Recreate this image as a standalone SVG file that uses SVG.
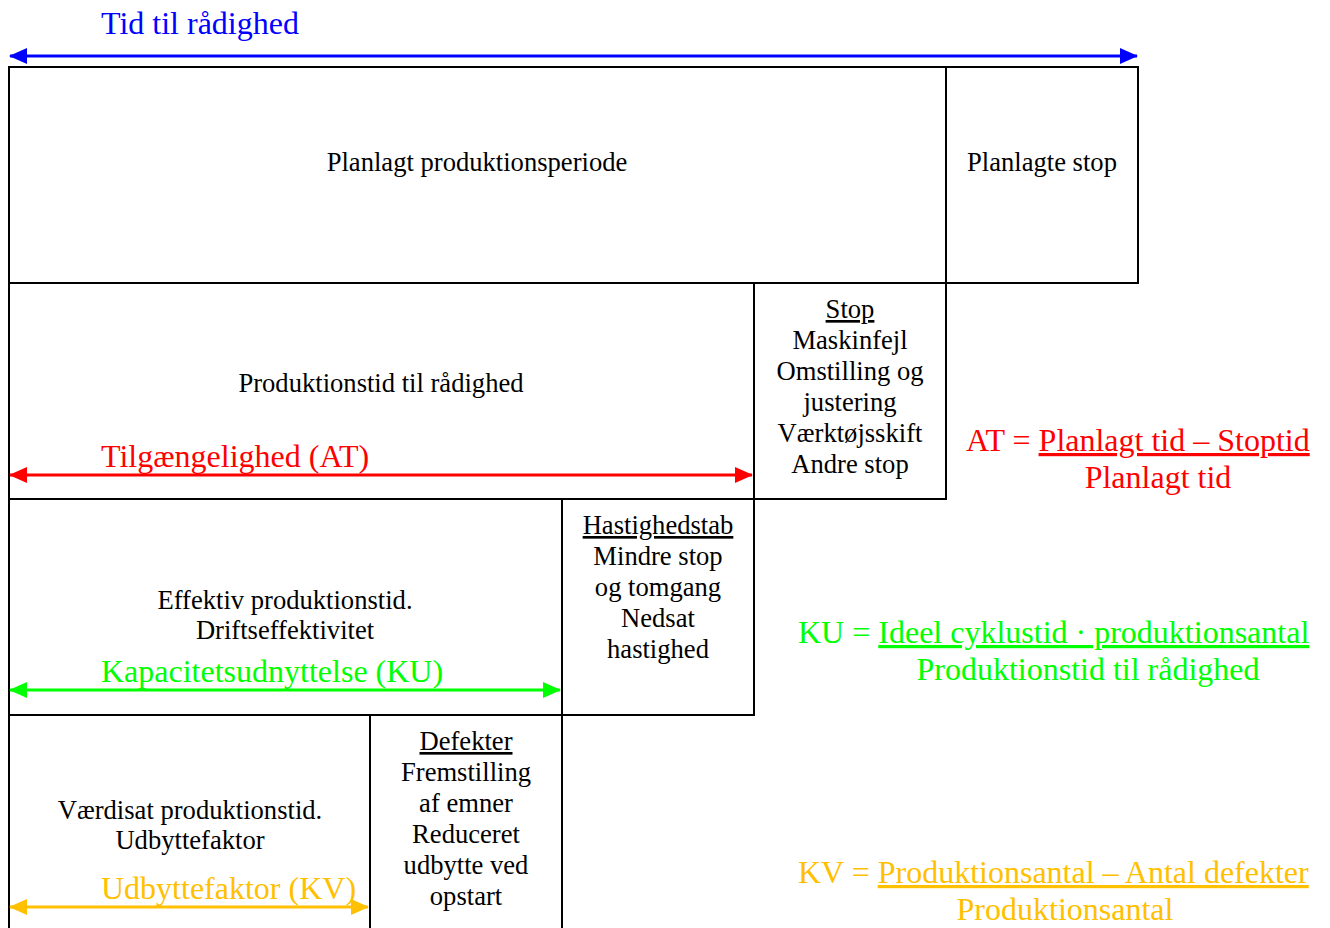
<svg xmlns="http://www.w3.org/2000/svg" width="1330" height="928" viewBox="0 0 1330 928">
<style>
.box{fill:#fff;stroke:#000;stroke-width:2}
.t{font-family:"Liberation Serif","Times New Roman",serif;font-size:26.6px;fill:#000;text-anchor:middle}
.big{font-family:"Liberation Serif","Times New Roman",serif;font-size:32px}
.u{text-decoration:underline}
.blue{fill:#0000FF}.red{fill:#FF0000}.green{fill:#00FF00}.yellow{fill:#FFC000}
</style>
<defs>
<marker id="ab" viewBox="0 0 18 16" refX="17" refY="8" markerWidth="18" markerHeight="16" markerUnits="userSpaceOnUse" orient="auto-start-reverse"><path d="M0,0 L18,8 L0,16 Z" fill="#0000FF"/></marker>
<marker id="ar" viewBox="0 0 18 16" refX="17" refY="8" markerWidth="18" markerHeight="16" markerUnits="userSpaceOnUse" orient="auto-start-reverse"><path d="M0,0 L18,8 L0,16 Z" fill="#FF0000"/></marker>
<marker id="ag" viewBox="0 0 18 16" refX="17" refY="8" markerWidth="18" markerHeight="16" markerUnits="userSpaceOnUse" orient="auto-start-reverse"><path d="M0,0 L18,8 L0,16 Z" fill="#00FF00"/></marker>
<marker id="ay" viewBox="0 0 18 16" refX="17" refY="8" markerWidth="18" markerHeight="16" markerUnits="userSpaceOnUse" orient="auto-start-reverse"><path d="M0,0 L18,8 L0,16 Z" fill="#FFC000"/></marker>
</defs>
<rect width="1330" height="928" fill="#fff"/>
<g id="n-planlagt-periode"><rect class="box" x="9" y="67" width="937" height="216"/><text class="t" x="477" y="171">Planlagt produktionsperiode</text></g>
<g id="n-planlagte-stop"><rect class="box" x="946" y="67" width="192" height="216"/><text class="t" x="1042" y="171">Planlagte stop</text></g>
<g id="n-produktionstid"><rect class="box" x="9" y="283" width="745" height="216"/><text class="t" x="381" y="392">Produktionstid til rådighed</text></g>
<g id="n-stop"><rect class="box" x="754" y="283" width="192" height="216"/>
<text class="t" x="850" y="318"><tspan class="u">Stop</tspan></text>
<text class="t" x="850" y="349">Maskinfejl</text>
<text class="t" x="850" y="380">Omstilling og</text>
<text class="t" x="850" y="411">justering</text>
<text class="t" x="850" y="442">Værktøjsskift</text>
<text class="t" x="850" y="473">Andre stop</text></g>
<g id="n-effektiv"><rect class="box" x="9" y="499" width="553" height="216"/><text class="t" x="285" y="609">Effektiv produktionstid.</text><text class="t" x="285" y="639">Driftseffektivitet</text></g>
<g id="n-hastighedstab"><rect class="box" x="562" y="499" width="192" height="216"/>
<text class="t" x="658" y="534"><tspan class="u">Hastighedstab</tspan></text>
<text class="t" x="658" y="565">Mindre stop</text>
<text class="t" x="658" y="596">og tomgang</text>
<text class="t" x="658" y="627">Nedsat</text>
<text class="t" x="658" y="658">hastighed</text></g>
<g id="n-vaerdisat"><rect class="box" x="9" y="715" width="361" height="230"/><text class="t" x="190" y="819">Værdisat produktionstid.</text><text class="t" x="190" y="849">Udbyttefaktor</text></g>
<g id="n-defekter"><rect class="box" x="370" y="715" width="192" height="230"/>
<text class="t" x="466" y="750"><tspan class="u">Defekter</tspan></text>
<text class="t" x="466" y="781">Fremstilling</text>
<text class="t" x="466" y="812">af emner</text>
<text class="t" x="466" y="843">Reduceret</text>
<text class="t" x="466" y="874">udbytte ved</text>
<text class="t" x="466" y="905">opstart</text></g>
<g id="connectors" stroke-width="3">
<line x1="10" y1="56" x2="1137" y2="56" stroke="#0000FF" marker-start="url(#ab)" marker-end="url(#ab)"/>
<line x1="10" y1="475" x2="752" y2="475" stroke="#FF0000" marker-start="url(#ar)" marker-end="url(#ar)"/>
<line x1="10" y1="690" x2="560" y2="690" stroke="#00FF00" marker-start="url(#ag)" marker-end="url(#ag)"/>
<line x1="10" y1="907" x2="368" y2="907" stroke="#FFC000" marker-start="url(#ay)" marker-end="url(#ay)"/>
</g>
<g id="labels">
<text class="big blue" x="101" y="34">Tid til rådighed</text>
<text class="big red" x="101" y="467">Tilgængelighed (AT)</text>
<text class="big green" x="101" y="682">Kapacitetsudnyttelse (KU)</text>
<text class="big yellow" x="101" y="899">Udbyttefaktor (KV)</text>
</g>
<g id="formula-at" class="big red">
<text x="966" y="451">AT = <tspan class="u">Planlagt tid – Stoptid</tspan></text>
<text x="1158" y="488" text-anchor="middle">Planlagt tid</text>
</g>
<g id="formula-ku" class="big green">
<text x="798" y="643">KU = <tspan class="u">Ideel cyklustid · produktionsantal</tspan></text>
<text x="1088" y="680" text-anchor="middle">Produktionstid til rådighed</text>
</g>
<g id="formula-kv" class="big yellow">
<text x="798" y="883">KV = <tspan class="u">Produktionsantal – Antal defekter</tspan></text>
<text x="1065" y="920" text-anchor="middle">Produktionsantal</text>
</g>
</svg>
